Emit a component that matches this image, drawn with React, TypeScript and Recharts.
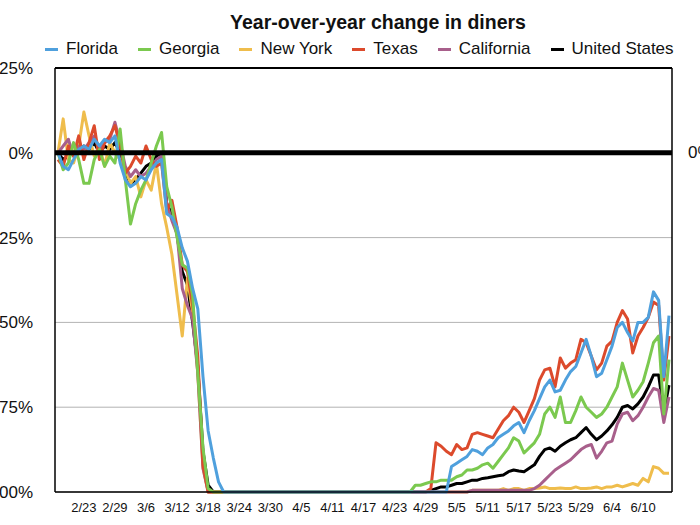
import React from 'react';
import { LineChart, Line, XAxis, YAxis, CartesianGrid, ReferenceLine } from 'recharts';

const FONT = '"Liberation Sans", Arial, Helvetica, sans-serif';

const dates = [
  '2/18', '2/19', '2/20', '2/21', '2/22', '2/23', '2/24', '2/25', '2/26', '2/27', '2/28', '2/29',
  '3/1', '3/2', '3/3', '3/4', '3/5', '3/6', '3/7', '3/8', '3/9', '3/10', '3/11', '3/12', '3/13', '3/14', '3/15', '3/16', '3/17', '3/18', '3/19', '3/20', '3/21', '3/22', '3/23', '3/24', '3/25', '3/26', '3/27', '3/28', '3/29', '3/30', '3/31',
  '4/1', '4/2', '4/3', '4/4', '4/5', '4/6', '4/7', '4/8', '4/9', '4/10', '4/11', '4/12', '4/13', '4/14', '4/15', '4/16', '4/17', '4/18', '4/19', '4/20', '4/21', '4/22', '4/23', '4/24', '4/25', '4/26', '4/27', '4/28', '4/29', '4/30',
  '5/1', '5/2', '5/3', '5/4', '5/5', '5/6', '5/7', '5/8', '5/9', '5/10', '5/11', '5/12', '5/13', '5/14', '5/15', '5/16', '5/17', '5/18', '5/19', '5/20', '5/21', '5/22', '5/23', '5/24', '5/25', '5/26', '5/27', '5/28', '5/29', '5/30', '5/31',
  '6/1', '6/2', '6/3', '6/4', '6/5', '6/6', '6/7', '6/8', '6/9', '6/10', '6/11', '6/12', '6/13', '6/14', '6/15',
];

const tickLabels = ['2/23', '2/29', '3/6', '3/12', '3/18', '3/24', '3/30', '4/5', '4/11', '4/17', '4/23', '4/29', '5/5', '5/11', '5/17', '5/23', '5/29', '6/4', '6/10'];
const yTicks = [-100, -75, -50, -25, 0, 25];
const rightTickLabel = '0%';

const florida = [
  0, -4, -5, -2, 1, 2, 1, 4, 2, 4, 3, 5, -3, -8, -10, -9, -7, -8, -5, -3, -2,
  -18, -19, -22, -28, -32, -40, -46, -66, -82, -90, -97, -100,
  -100, -100, -100, -100, -100, -100, -100, -100, -100, -100,
  -100, -100, -100, -100, -100, -100, -100, -100, -100, -100,
  -100, -100, -100, -100, -100, -100, -100, -100, -100, -100,
  -100, -100, -100, -100, -100, -100, -100, -100, -100, -100,
  -100, -100, -100,
  -92.5, -91.5, -90.5, -89.5, -87.5, -88, -89, -87, -86, -84, -83, -82, -80.5, -79.5, -82.5, -79, -76, -72.5, -69, -67,
  -70.5, -70, -67, -64.5, -63, -59, -55, -60, -66, -65, -61, -57, -51.5, -50, -53, -55.5, -50, -50, -48.5, -41,
  -43.5, -66, -48,
];

const georgia = [
  0, -5, -3, 3, -2, -9, -9, -2, 1, -4, -1, -3, 7, -8, -21, -15, -11, -8, -3, 2, 6,
  -10, -16, -25, -33, -34, -42, -65, -87, -99, -100, -100, -100,
  -100, -100, -100, -100, -100, -100, -100, -100, -100, -100,
  -100, -100, -100, -100, -100, -100, -100, -100, -100, -100,
  -100, -100, -100, -100, -100, -100, -100, -100, -100, -100,
  -100, -100, -100, -100, -100, -100,
  -98, -98, -97.5, -97, -97, -96.5, -96.5, -96.5, -95.5, -95, -93.5, -93.5, -93, -92, -91.5, -93, -91, -89, -87, -84,
  -85, -88.5, -87, -85.5, -83, -77, -75, -78, -72, -79.5, -79.5, -76, -72, -75, -76.5, -78, -77, -75, -72, -69,
  -62, -67, -72, -70, -67.5, -62, -56, -54, -77, -61,
];

const newYork = [
  0, 10, -2, -3, 2, 12, 5, -1, 2, -4, 3, 0, -2, -5, -9, -7, -13, -8, -11, -3, -15,
  -22, -30, -42, -54, -37, -47, -65, -93, -100, -100, -100, -100,
  -100, -100, -100, -100, -100, -100, -100, -100, -100, -100,
  -100, -100, -100, -100, -100, -100, -100, -100, -100, -100,
  -100, -100, -100, -100, -100, -100, -100, -100, -100, -100,
  -100, -100, -100, -100, -100, -100, -100, -100, -100, -100,
  -100, -100, -100, -100, -100, -100, -100,
  -99.5, -99.5, -99.5, -99.5, -99.5, -99.5, -99, -99.5, -99, -99, -99.5, -99, -99, -98.8, -98.5, -99, -99, -98.8, -99, -99,
  -98.5, -99, -99, -98.8, -98.5, -99, -98.5, -98.5, -98, -98.5, -98, -97.5, -98, -96, -97, -92.5, -93, -94.5, -94.5,
];

const texas = [
  -2, -4, 2, -1, 5, -2, 3, 8, -2, 3, 5, 8, 2, -6, -4, -1, -3, 2, -2, -4, -3,
  -17, -14, -22, -33, -35, -45, -60, -92, -100, -100, -100, -100,
  -100, -100, -100, -100, -100, -100, -100, -100, -100, -100,
  -100, -100, -100, -100, -100, -100, -100, -100, -100, -100,
  -100, -100, -100, -100, -100, -100, -100, -100, -100, -100,
  -100, -100, -100, -100, -100, -100, -100, -100, -100,
  -99, -85.5, -86.5, -88, -89, -86, -87.5, -87, -83, -82.5, -83, -83.5, -84, -81.5, -79, -77.5, -75, -76.5, -79.5, -76,
  -72.5, -67, -64, -63.5, -69, -60.5, -63.5, -62, -61, -55, -56, -60, -64, -62, -57, -55.5, -50, -46.5, -49, -59,
  -54, -51.5, -48.5, -44, -45, -67, -54,
];

const california = [
  0, 2, 4, -1, 2, 1, 3, 5, 1, 3, 4, 9, 3, -4, -7, -5, -7, -6, -4, -2, -1,
  -15, -20, -24, -40, -45, -49, -65, -93, -100, -100, -100, -100,
  -100, -100, -100, -100, -100, -100, -100, -100, -100, -100,
  -100, -100, -100, -100, -100, -100, -100, -100, -100, -100,
  -100, -100, -100, -100, -100, -100, -100, -100, -100, -100,
  -100, -100, -100, -100, -100, -100, -100, -100, -100, -100,
  -100, -100, -100, -100, -100, -100, -100,
  -99.5, -99.5, -99.5, -99.5, -99.5, -99.5, -99.5, -99.5, -99.5, -99.5, -99.5, -99.5,
  -99, -98, -96.5, -95, -93.5, -92.5, -91.5, -90.5, -89, -87.5, -86.5, -86, -90, -88, -85.5, -85, -80, -77, -76.5, -79,
  -77.5, -75, -72, -69.5, -70, -79.5, -72,
];

const unitedStates = [
  0, -2, -1, 0, 1, 2, 1, 3, 0, 2, 1, 3, 0, -6, -9, -8, -6, -4, -3, -1, 0,
  -15, -18, -24, -35, -39, -50, -63, -88, -98, -100, -100, -100,
  -100, -100, -100, -100, -100, -100, -100, -100, -100, -100,
  -100, -100, -100, -100, -100, -100, -100, -100, -100, -100,
  -100, -100, -100, -100, -100, -100, -100, -100, -100, -100,
  -100, -100, -100, -100, -100, -100, -100, -100, -100,
  -99.5, -99, -98.5, -98.5, -98, -97.5, -97.5, -97, -96.5, -96.5, -96, -95.8, -95.5, -95.2, -95, -94, -93.5, -93.8, -94, -93,
  -92, -89.5, -87.5, -87, -88, -86.5, -85.5, -84.6, -84, -82.5, -81, -83, -84.6, -83.5, -82, -80.2, -78, -75, -74.5, -75.5,
  -74, -72, -69, -65.5, -65.5, -76.5, -68.5,
];

const legendItems = [
  { name: 'Florida', color: '#4FA0DD' },
  { name: 'Georgia', color: '#7BC94F' },
  { name: 'New York', color: '#EFBD4C' },
  { name: 'Texas', color: '#DC4A2C' },
  { name: 'California', color: '#A85F8B' },
  { name: 'United States', color: '#000000' },
];

const data = dates.map((d, i) => ({
  date: d,
  Florida: florida[i],
  Georgia: georgia[i],
  'New York': newYork[i],
  Texas: texas[i],
  California: california[i],
  'United States': unitedStates[i],
}));

const drawOrder = ['United States', 'New York', 'California', 'Texas', 'Georgia', 'Florida'];
const colorOf = (n: string) => legendItems.find((l) => l.name === n)!.color;

export default function App() {
  return (
    <div style={{ position: 'absolute', left: 0, top: 0, width: 700, height: 525, overflow: 'hidden', background: '#fff', fontFamily: FONT }}>
      <div style={{ position: 'absolute', left: 0, width: 756, top: 9, textAlign: 'center', fontWeight: 'bold', fontSize: 19.5, color: '#111', lineHeight: '26px' }}>
        Year-over-year change in diners
      </div>
      <div style={{ position: 'absolute', left: 45, top: 38, display: 'flex', alignItems: 'center', whiteSpace: 'nowrap', fontSize: 17, color: '#111', lineHeight: '22px' }}>
        {legendItems.map((it, idx) => (
          <div key={it.name} style={{ display: 'flex', alignItems: 'center', marginLeft: idx === 0 ? 0 : 20 }}>
            <div style={{ width: 13, height: 3, background: it.color, marginRight: 8 }} />
            <span>{it.name}</span>
          </div>
        ))}
      </div>
      <div style={{ position: 'absolute', left: 0, top: 0 }}>
        <div style={{ position: 'absolute', left: -30, top: 0 }}>
          <LineChart width={760} height={525} data={data} margin={{ top: 68, right: 18, bottom: 3, left: 25 }}>
            <CartesianGrid horizontal vertical={false} stroke="#b3b3b3" strokeWidth={1} />
            <XAxis
              dataKey="date"
              ticks={tickLabels}
              interval={0}
              tickLine={false}
              axisLine={{ stroke: '#000', strokeWidth: 1.5 }}
              tick={{ fill: '#111', fontSize: 13, fontFamily: FONT }}
              tickSize={6}
              tickMargin={5}
              padding={{ left: 3, right: 3 }}
              height={30}
            />
            <YAxis
              type="number"
              domain={[-100, 25]}
              ticks={yTicks}
              tickFormatter={(v: number) => `${v}%`}
              width={60}
              tickLine={false}
              tickSize={6}
              tickMargin={16}
              axisLine={{ stroke: '#000', strokeWidth: 1.5 }}
              tick={{ fill: '#111', fontSize: 17, fontFamily: FONT }}
              interval={0}
            />
            <YAxis
              yAxisId="right"
              orientation="right"
              type="number"
              domain={[-100, 25]}
              width={40}
              tick={false}
              tickLine={false}
              axisLine={{ stroke: '#000', strokeWidth: 1.5 }}
            />
            {drawOrder.map((name) => (
              <Line
                key={name}
                type="linear"
                dataKey={name}
                stroke={colorOf(name)}
                strokeWidth={3}
                dot={false}
                activeDot={false}
                strokeLinejoin="round"
                isAnimationActive={false}
              />
            ))}
            <ReferenceLine y={0} stroke="#000" strokeWidth={5} />
            <ReferenceLine y={25} stroke="#000" strokeWidth={2} />
          </LineChart>
        </div>
        <div style={{ position: 'absolute', left: 688, top: 142, fontSize: 17, lineHeight: '22px', color: '#111', whiteSpace: 'nowrap' }}>
          {rightTickLabel}
        </div>
      </div>
    </div>
  );
}
